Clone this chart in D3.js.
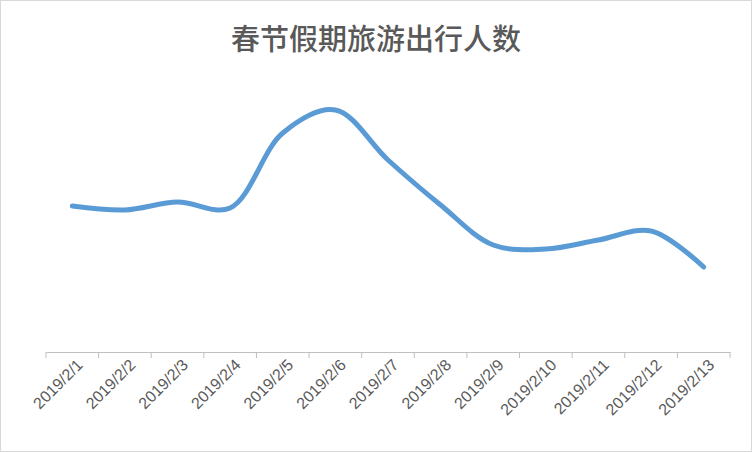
<!DOCTYPE html>
<html><head><meta charset="utf-8">
<script src="https://cdn.jsdelivr.net/npm/d3@7"></script>
<style>body{margin:0;background:#fff}</style>
</head><body>
<svg id="chart" width="752" height="452"></svg>
<script>
const dates = ['2019/2/1','2019/2/2','2019/2/3','2019/2/4','2019/2/5','2019/2/6','2019/2/7','2019/2/8','2019/2/9','2019/2/10','2019/2/11','2019/2/12','2019/2/13'];
const travelers = [146, 142, 150, 144, 219, 242, 192, 147, 107, 103, 112, 121, 85];

const svg = d3.select('svg#chart');
const margin = {top: 100, right: 22, bottom: 100, left: 46};
const W = 752, H = 452;
const innerW = W - margin.left - margin.right;
const innerH = H - margin.top - margin.bottom;

svg.append('rect').attr('x',0.5).attr('y',0.5).attr('width',W-1).attr('height',H-1)
  .attr('fill','#fff').attr('stroke','#d9d9d9');

svg.append('text').attr('x', W/2).attr('y', 50).attr('text-anchor','middle')
  .attr('font-family','Noto Sans CJK SC').attr('font-size',29).attr('font-weight',500).attr('fill','#595959')
  .text('春节假期旅游出行人数');

const x = d3.scaleBand().domain(dates).range([0, innerW]);
const y = d3.scaleLinear().domain([0, 252]).range([innerH, 0]);

const g = svg.append('g').attr('transform',`translate(${margin.left},${margin.top})`);

const ax = g.append('g').attr('transform',`translate(0,${innerH})`)
  .call(d3.axisBottom(x).tickSize(0).tickPadding(10));
ax.select('.domain').attr('stroke','#bfbfbf');
ax.selectAll('text').attr('font-family','Liberation Sans').attr('font-size',16).attr('fill','#595959')
  .attr('text-anchor','end').attr('transform','rotate(-45)').attr('dx','-0.1em').attr('dy','0.5em');
g.append('g').selectAll('line').data(d3.range(dates.length+1)).join('line')
  .attr('x1', i => i*x.bandwidth()).attr('x2', i => i*x.bandwidth())
  .attr('y1', innerH).attr('y2', innerH+6).attr('stroke','#bfbfbf');

const line = d3.line().x((d,i) => x(dates[i]) + x.bandwidth()/2).y(d => y(d))
  .curve(d3.curveCatmullRom.alpha(0.5));
g.append('path').datum(travelers).attr('d', line).attr('fill','none')
  .attr('stroke','#5b9bd5').attr('stroke-width',5).attr('stroke-linecap','round');
</script>
</body></html>
